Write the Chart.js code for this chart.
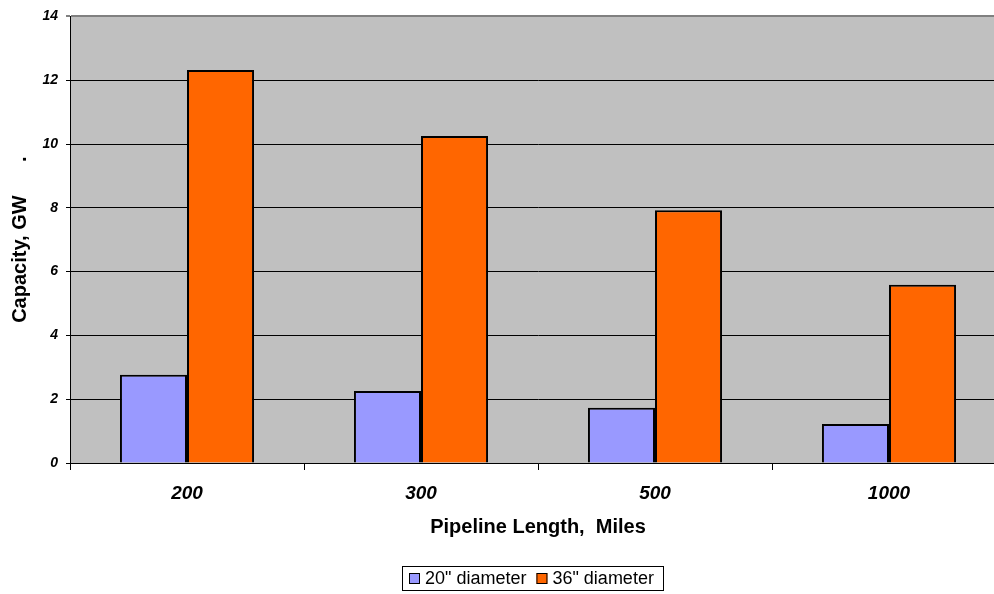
<!DOCTYPE html>
<html>
<head>
<meta charset="utf-8">
<script src="https://cdn.jsdelivr.net/npm/chart.js@4"></script>
<style>
  html, body { margin: 0; padding: 0; background: #fff; overflow: hidden; }
  #wrap { position: absolute; left: 0; top: 0; width: 1008px; height: 594px; }
</style>
</head>
<body>
<div id="wrap"><canvas id="capChart" width="1008" height="594"></canvas></div>
<script>
const lengths = ["200", "300", "500", "1000"];
const dia20 = [2.77, 2.26, 1.73, 1.22];
const dia36 = [12.32, 10.25, 7.92, 5.59];
const yTicks = [0, 2, 4, 6, 8, 10, 12, 14];

// gray plot background
const plotBg = {
    id: "plotBg",
    beforeDraw(chart) {
        const a = chart.chartArea;
        const ctx = chart.ctx;
        ctx.save();
        ctx.fillStyle = "#C0C0C0";
        ctx.fillRect(a.left, a.top, a.right - a.left, a.bottom - a.top);
        ctx.restore();
    }
};

// boxed legend like the original
const boxLegend = {
    id: "boxLegend",
    afterDraw(chart) {
        const ctx = chart.ctx;
        ctx.save();
        ctx.font = "18px Arial, 'Liberation Sans', sans-serif";
        ctx.textBaseline = "middle";
        const y = 578;
        let x = 409;
        ctx.strokeStyle = "#000";
        ctx.lineWidth = 1;
        ctx.strokeRect(402.5, 566.5, 261, 24);
        chart.data.datasets.forEach(ds => {
            ctx.fillStyle = ds.backgroundColor;
            ctx.fillRect(x, y - 5, 11, 11);
            ctx.strokeStyle = "#000";
            ctx.strokeRect(x + 0.5, y - 4.5, 10, 10);
            ctx.fillStyle = "#000";
            ctx.fillText(ds.label, x + 16, y + 1);
            x += 16 + ctx.measureText(ds.label).width + 10;
        });
        ctx.restore();
    }
};

const ctx = document.getElementById("capChart").getContext("2d");
new Chart(ctx, {
    type: "bar",
    data: {
        labels: lengths,
        datasets: [{
            label: "20\" diameter",
            data: dia20,
            backgroundColor: "#9999FF",
            borderColor: "#000",
            borderWidth: 2
        }, {
            label: "36\" diameter",
            data: dia36,
            backgroundColor: "#FF6600",
            borderColor: "#000",
            borderWidth: 2
        }]
    },
    options: {
        responsive: false,
        animation: false,
        layout: { padding: { top: 13, right: 2, bottom: 51, left: 0 } },
        datasets: {
            bar: { categoryPercentage: 0.573, barPercentage: 1 }
        },
        plugins: {
            legend: { display: false },
            tooltip: { enabled: false }
        },
        scales: {
            x: {
                offset: true,
                grid: {
                    offset: true,
                    drawOnChartArea: false,
                    drawTicks: true,
                    tickLength: 7,
                    color: "#000"
                },
                border: { display: true, color: "#000", width: 1 },
                ticks: {
                    color: "#000",
                    padding: 12,
                    font: { family: "Arial, 'Liberation Sans', sans-serif", size: 19, weight: "bold", style: "italic" }
                },
                title: {
                    display: true,
                    text: "Pipeline Length,  Miles",
                    color: "#000",
                    padding: { top: 4, bottom: 4 },
                    font: { family: "Arial, 'Liberation Sans', sans-serif", size: 20, weight: "bold" }
                },
                afterFit(scale) { scale.height = 80; }
            },
            y: {
                min: 0,
                max: 14,
                afterBuildTicks(scale) { scale.ticks = yTicks.map(v => ({ value: v })); },
                grid: {
                    color: ctx => ctx.tick && ctx.tick.value === 14 ? "#808080" : "#000",
                    lineWidth: ctx => ctx.tick && ctx.tick.value === 14 ? 2 : 1,
                    tickLength: 4
                },
                border: { display: true, color: "#000", width: 1 },
                ticks: {
                    color: "#000",
                    padding: 8,
                    font: { family: "Arial, 'Liberation Sans', sans-serif", size: 14, weight: "bold", style: "italic" }
                },
                title: {
                    display: true,
                    text: "Capacity, GW      .",
                    color: "#000",
                    padding: { top: 8, bottom: 4 },
                    font: { family: "Arial, 'Liberation Sans', sans-serif", size: 20, weight: "bold" }
                },
                afterFit(scale) { scale.width = 70; }
            }
        }
    },
    plugins: [plotBg, boxLegend]
});
</script>
</body>
</html>
